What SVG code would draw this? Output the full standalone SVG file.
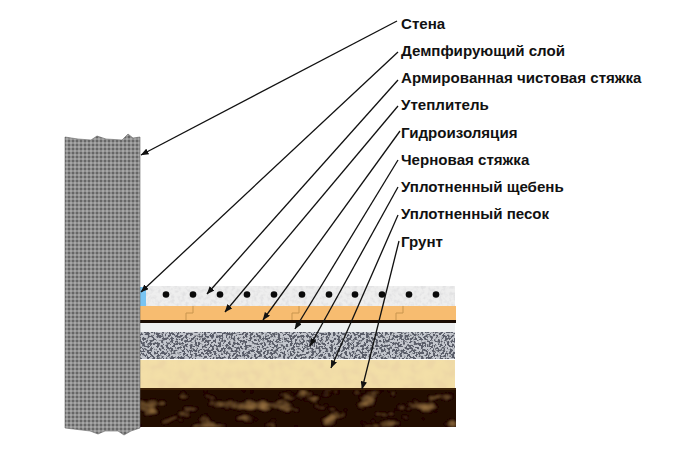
<svg xmlns="http://www.w3.org/2000/svg" width="700" height="453" viewBox="0 0 700 453">
<style>
.lbl{font-family:"Liberation Sans",Arial,sans-serif;font-weight:bold;font-size:15.100px;fill:#111}
.ln{stroke:#111;stroke-width:1.3;fill:none;marker-end:url(#ah)}
.dot{fill:#0a0a0a}
.joint{fill:none;stroke:#c8954e;stroke-width:1}
</style>
<defs>
<marker id="ah" viewBox="0 0 10 8" refX="9.5" refY="4" markerWidth="8" markerHeight="6.4" markerUnits="userSpaceOnUse" orient="auto"><path d="M0 0L10 4L0 8z" fill="#111"/></marker>
<pattern id="wallp" width="4" height="4" patternUnits="userSpaceOnUse"><rect width="4" height="4" fill="#8e8e8e"/><rect width="2" height="2" fill="#666"/><rect x="2" y="2" width="2" height="2" fill="#a6a6a6"/></pattern>
<filter id="fWhite" x="0" y="0" width="1" height="1"><feTurbulence type="fractalNoise" baseFrequency="0.28" numOctaves="2" seed="3"/><feColorMatrix values="0 0 0 0 0.76  0 0 0 0 0.76  0 0 0 0 0.77  3 0 0 0 -1.25"/><feComposite in2="SourceGraphic" operator="in" result="n"/><feGaussianBlur in="n" stdDeviation="0.6" result="b"/><feMerge><feMergeNode in="SourceGraphic"/><feMergeNode in="b"/></feMerge></filter>
<filter id="fGravel" x="0" y="0" width="1" height="1"><feTurbulence type="fractalNoise" baseFrequency="0.42" numOctaves="2" seed="8"/><feColorMatrix values="0 0 0 0 0.1  0 0 0 0 0.11  0 0 0 0 0.14  10 0 0 0 -4.6"/><feComposite in2="SourceGraphic" operator="in" result="n"/><feGaussianBlur in="n" stdDeviation="0.4" result="b"/><feMerge><feMergeNode in="SourceGraphic"/><feMergeNode in="b"/></feMerge></filter>
<filter id="fSand" x="0" y="0" width="1" height="1"><feTurbulence type="fractalNoise" baseFrequency="0.1" numOctaves="3" seed="5"/><feColorMatrix values="0 0 0 0 0.85  0 0 0 0 0.68  0 0 0 0 0.38  4 0 0 0 -1.7"/><feComposite in2="SourceGraphic" operator="in" result="n"/><feGaussianBlur in="n" stdDeviation="1" result="b"/><feMerge><feMergeNode in="SourceGraphic"/><feMergeNode in="b"/></feMerge></filter>
<filter id="fSoil" x="0" y="0" width="1" height="1"><feTurbulence type="fractalNoise" baseFrequency="0.05 0.09" numOctaves="4" seed="12"/><feColorMatrix values="0 0 0 0 0.36  0 0 0 0 0.19  0 0 0 0 0.06  3 0 0 0 -1.75"/><feComposite in2="SourceGraphic" operator="in" result="n"/><feGaussianBlur in="n" stdDeviation="1" result="b"/><feMerge><feMergeNode in="SourceGraphic"/><feMergeNode in="b"/></feMerge></filter>
</defs>
<rect width="700" height="453" fill="#fff"/>
<g id="grunt-layer"><rect x="140" y="390" width="316" height="37" fill="#220c04" filter="url(#fSoil)"/></g>
<g id="pesok-layer"><rect x="140" y="360" width="315" height="29" fill="#f3dfa8" filter="url(#fSand)"/><rect x="140" y="388" width="316" height="2" fill="#3a2008"/></g>
<g id="sheben-layer"><rect x="140" y="332" width="315" height="27" fill="#c4c7ce" filter="url(#fGravel)"/></g>
<g id="chernovaya-layer"><rect x="140" y="323" width="315" height="9" fill="#eef0f1"/></g>
<g id="gidro-layer"><rect x="140" y="320" width="316" height="3" fill="#1a0c04"/></g>
<g id="uteplitel-layer"><rect x="140" y="306" width="316" height="14" fill="#f7bc70"/>
<path class="joint" d="M186 320V313H193V306M292 320V313H299V306M396 320V313H403V306"/></g>
<g id="armir-layer"><rect x="146" y="286" width="309" height="20" fill="#eeeeee" filter="url(#fWhite)"/>
<g class="dot"><circle cx="166" cy="294.500" r="3.300"/><circle cx="193" cy="294.500" r="3.300"/><circle cx="220" cy="294.500" r="3.300"/><circle cx="247" cy="294.500" r="3.300"/><circle cx="274" cy="294.500" r="3.300"/><circle cx="302" cy="294.500" r="3.300"/><circle cx="329" cy="294.500" r="3.300"/><circle cx="355" cy="294.500" r="3.300"/><circle cx="382" cy="294.500" r="3.300"/><circle cx="409" cy="294.500" r="3.300"/><circle cx="436" cy="294.500" r="3.300"/></g></g>
<g id="dempf-layer"><rect x="140" y="287" width="6" height="19" fill="#79c4f2"/></g>
<g id="wall"><path d="M65 137L78 139L91 140L97 136L106 139L122 140L128 134L133 138L140 137V428L131 431L124 435L118 431H105L98 434L90 431L65 428Z" fill="url(#wallp)" stroke="#666" stroke-width="0.6"/></g>
<g id="connectors">
<path class="ln" d="M397 21L141 155"/>
<path class="ln" d="M398 52L141 292"/>
<path class="ln" d="M398 80L207 294"/>
<path class="ln" d="M398 106L225 312"/>
<path class="ln" d="M400 131L263 320"/>
<path class="ln" d="M398 160L295 329"/>
<path class="ln" d="M398 187L310 346"/>
<path class="ln" d="M398 215L331 368"/>
<path class="ln" d="M399 241L362 389"/>
</g>
<g id="label-stena"><text class="lbl" x="401" y="29">Стена</text></g>
<g id="label-dempf"><text class="lbl" x="401" y="56">Демпфирующий слой</text></g>
<g id="label-armir"><text class="lbl" x="401" y="83">Армированная чистовая стяжка</text></g>
<g id="label-uteplitel"><text class="lbl" x="401" y="110">Утеплитель</text></g>
<g id="label-gidro"><text class="lbl" x="401" y="138">Гидроизоляция</text></g>
<g id="label-chernovaya"><text class="lbl" x="401" y="165">Черновая стяжка</text></g>
<g id="label-sheben"><text class="lbl" x="401" y="192">Уплотненный щебень</text></g>
<g id="label-pesok"><text class="lbl" x="401" y="219">Уплотненный песок</text></g>
<g id="label-grunt"><text class="lbl" x="401" y="247">Грунт</text></g>
</svg>
